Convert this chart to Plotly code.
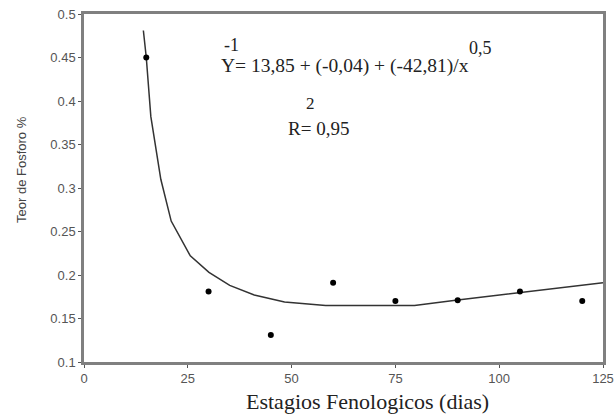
import plotly.graph_objects as go

# Observed data
dias = [15, 30, 45, 60, 75, 90, 105, 120]
fosforo = [0.45, 0.181, 0.131, 0.191, 0.170, 0.171, 0.181, 0.170]

# Fitted curve
curve_x = [14.3, 15.0, 16.1, 18.5, 21.0, 25.6, 30.1, 35.1, 41.0, 48.3, 58.2, 70.0, 79.6, 89.5, 105.2, 120.0, 125.0]
curve_y = [0.481, 0.45, 0.382, 0.31, 0.262, 0.222, 0.203, 0.188, 0.177, 0.169, 0.165, 0.165, 0.165, 0.171, 0.180, 0.188, 0.191]

x_ticks = [0, 25, 50, 75, 100, 125]
y_ticks = [0.1, 0.15, 0.2, 0.25, 0.3, 0.35, 0.4, 0.45, 0.5]

x_title = "Estagios Fenologicos (dias)"
y_title = "Teor de Fosforo %"

fig = go.Figure()
fig.add_trace(go.Scatter(x=curve_x, y=curve_y, mode="lines",
                         line=dict(color="#333333", width=1.5), showlegend=False,
                         hoverinfo="skip", cliponaxis=False))
fig.add_trace(go.Scatter(x=dias, y=fosforo, mode="markers",
                         marker=dict(color="black", size=6), showlegend=False))

serif = "Liberation Serif"
sans = "Liberation Sans"

L, R, T, B = 84, 603, 14, 362

fig.update_layout(
    width=616, height=417,
    margin=dict(l=L, r=616 - R, t=T, b=417 - B),
    paper_bgcolor="white", plot_bgcolor="white",
    xaxis=dict(range=[0, 125], tickvals=x_ticks, ticks="outside", ticklen=3,
               tickcolor="#555", showgrid=False, zeroline=False, automargin=False,
               showline=True, linecolor="#808080", linewidth=2.5, mirror=True,
               tickfont=dict(family=sans, size=13, color="#555")),
    yaxis=dict(range=[0.1, 0.5], tickvals=y_ticks, ticks="outside", ticklen=3,
               tickcolor="#555", showgrid=False, zeroline=False, automargin=False,
               showline=True, linecolor="#808080", linewidth=2.5, mirror=True,
               tickfont=dict(family=sans, size=13, color="#555")),
)


def add_px(text, px, py, size=19, anchor="left", family=serif, color="#222", angle=0):
    # convert page pixel to paper coords
    xp = (px - L) / (R - L)
    yp = (B - py) / (B - T)
    fig.add_annotation(x=xp, y=yp, xref="paper", yref="paper", text=text,
                       showarrow=False, xanchor=anchor, yanchor="middle",
                       textangle=angle,
                       font=dict(family=family, size=size, color=color))

add_px("-1", 222, 45, 18)
add_px("Y= 13,85 + (-0,04) + (-42,81)/x", 219, 66, 19.5)
add_px("0,5", 467, 48, 18)
add_px("2", 310, 104, 17, anchor="center")
add_px("R= 0,95", 286, 128, 19)

add_px(x_title, 367, 401, 22, anchor="center", color="#222")
add_px(y_title, 21, 170, 13, anchor="center", family=sans, color="#444", angle=-90)

fig.write_html("out.html", config={"displayModeBar": False},
               post_script="document.body.style.margin='0';")
